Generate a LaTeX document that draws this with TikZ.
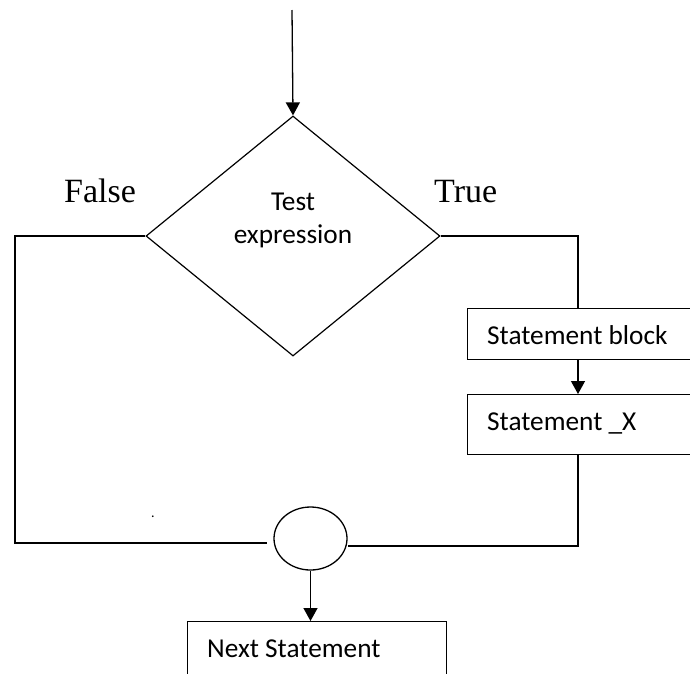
\documentclass[tikz,border=0pt]{standalone}
\usepackage{fontspec}
\setmainfont{Liberation Serif}
\newfontfamily\calib{Carlito}
\usetikzlibrary{shapes.geometric,arrows.meta}
\begin{document}
\begin{tikzpicture}[x=1pt,y=-1pt,
  ln/.style={line width=1.3pt},
  arr/.style={ln,-{Triangle[length=13pt,width=14pt]}},
  box/.style={draw,line width=1.3pt,rectangle,inner sep=0pt,anchor=north west},
  btxt/.style={font=\calib\fontsize{27.3}{33}\selectfont,anchor=base west,inner sep=0pt},
  lbl/.style={font=\fontsize{34}{40}\selectfont,anchor=base west,inner sep=0pt}]
\useasboundingbox (0,0) rectangle (690,673);
\clip (0,0) rectangle (690,673);
\fill[white] (0,0) rectangle (690,673);

% decision
\coordinate (start) at (292,10);
\node[draw,diamond,line width=1.2pt,minimum width=294pt,minimum height=240pt,inner sep=0pt] (dia) at (293,236) {};
\node[font=\calib\fontsize{27.3}{33}\selectfont,align=center,inner sep=0pt] (dtxt) at (293,220) {Test\\expression};
\draw[arr] (start) -- (dia.north);

% labels
\node[lbl] (false) at (64,202) {False};
\node[lbl] (true) at (434,202) {True};

% boxes
\node[box,minimum width=260pt,minimum height=51pt] (sb) at (467,308) {};
\node[btxt] (sbt) at (487,344) {Statement block};
\node[box,minimum width=260pt,minimum height=60pt] (sx) at (467,394) {};
\node[btxt] (sxt) at (487,430) {Statement \_X};
\node[box,minimum width=259pt,minimum height=70pt] (ns) at (187,621) {};
\node[btxt] (nst) at (207,657) {Next Statement};

% junction
\node[draw,ellipse,line width=1.3pt,minimum width=73pt,minimum height=63pt,inner sep=0pt] (jn) at (310.5,538.5) {};

% stray dot
\node[font=\calib\fontsize{14}{16}\selectfont,inner sep=0pt,anchor=base] (dot) at (153,517) {.};

% coordinates
\coordinate (ltop) at (15,236);
\coordinate (lbot) at (15,543);
\coordinate (lend) at (267,543);
\coordinate (rtop) at (578,236);
\coordinate (rbot) at (578,546);

% connectors
\draw[ln] (dia.west) -- (ltop) -- (lbot) -- (lend);
\draw[ln] (dia.east) -- (rtop) -- (sb.north -| rtop);
\draw[arr] (sb.south -| rtop) -- (sx.north -| rtop);
\draw[ln] (sx.south -| rtop) -- (rbot) -- (rbot -| jn.east);
\draw[arr] (jn.south) -- (jn.south |- ns.north);
\end{tikzpicture}
\end{document}
